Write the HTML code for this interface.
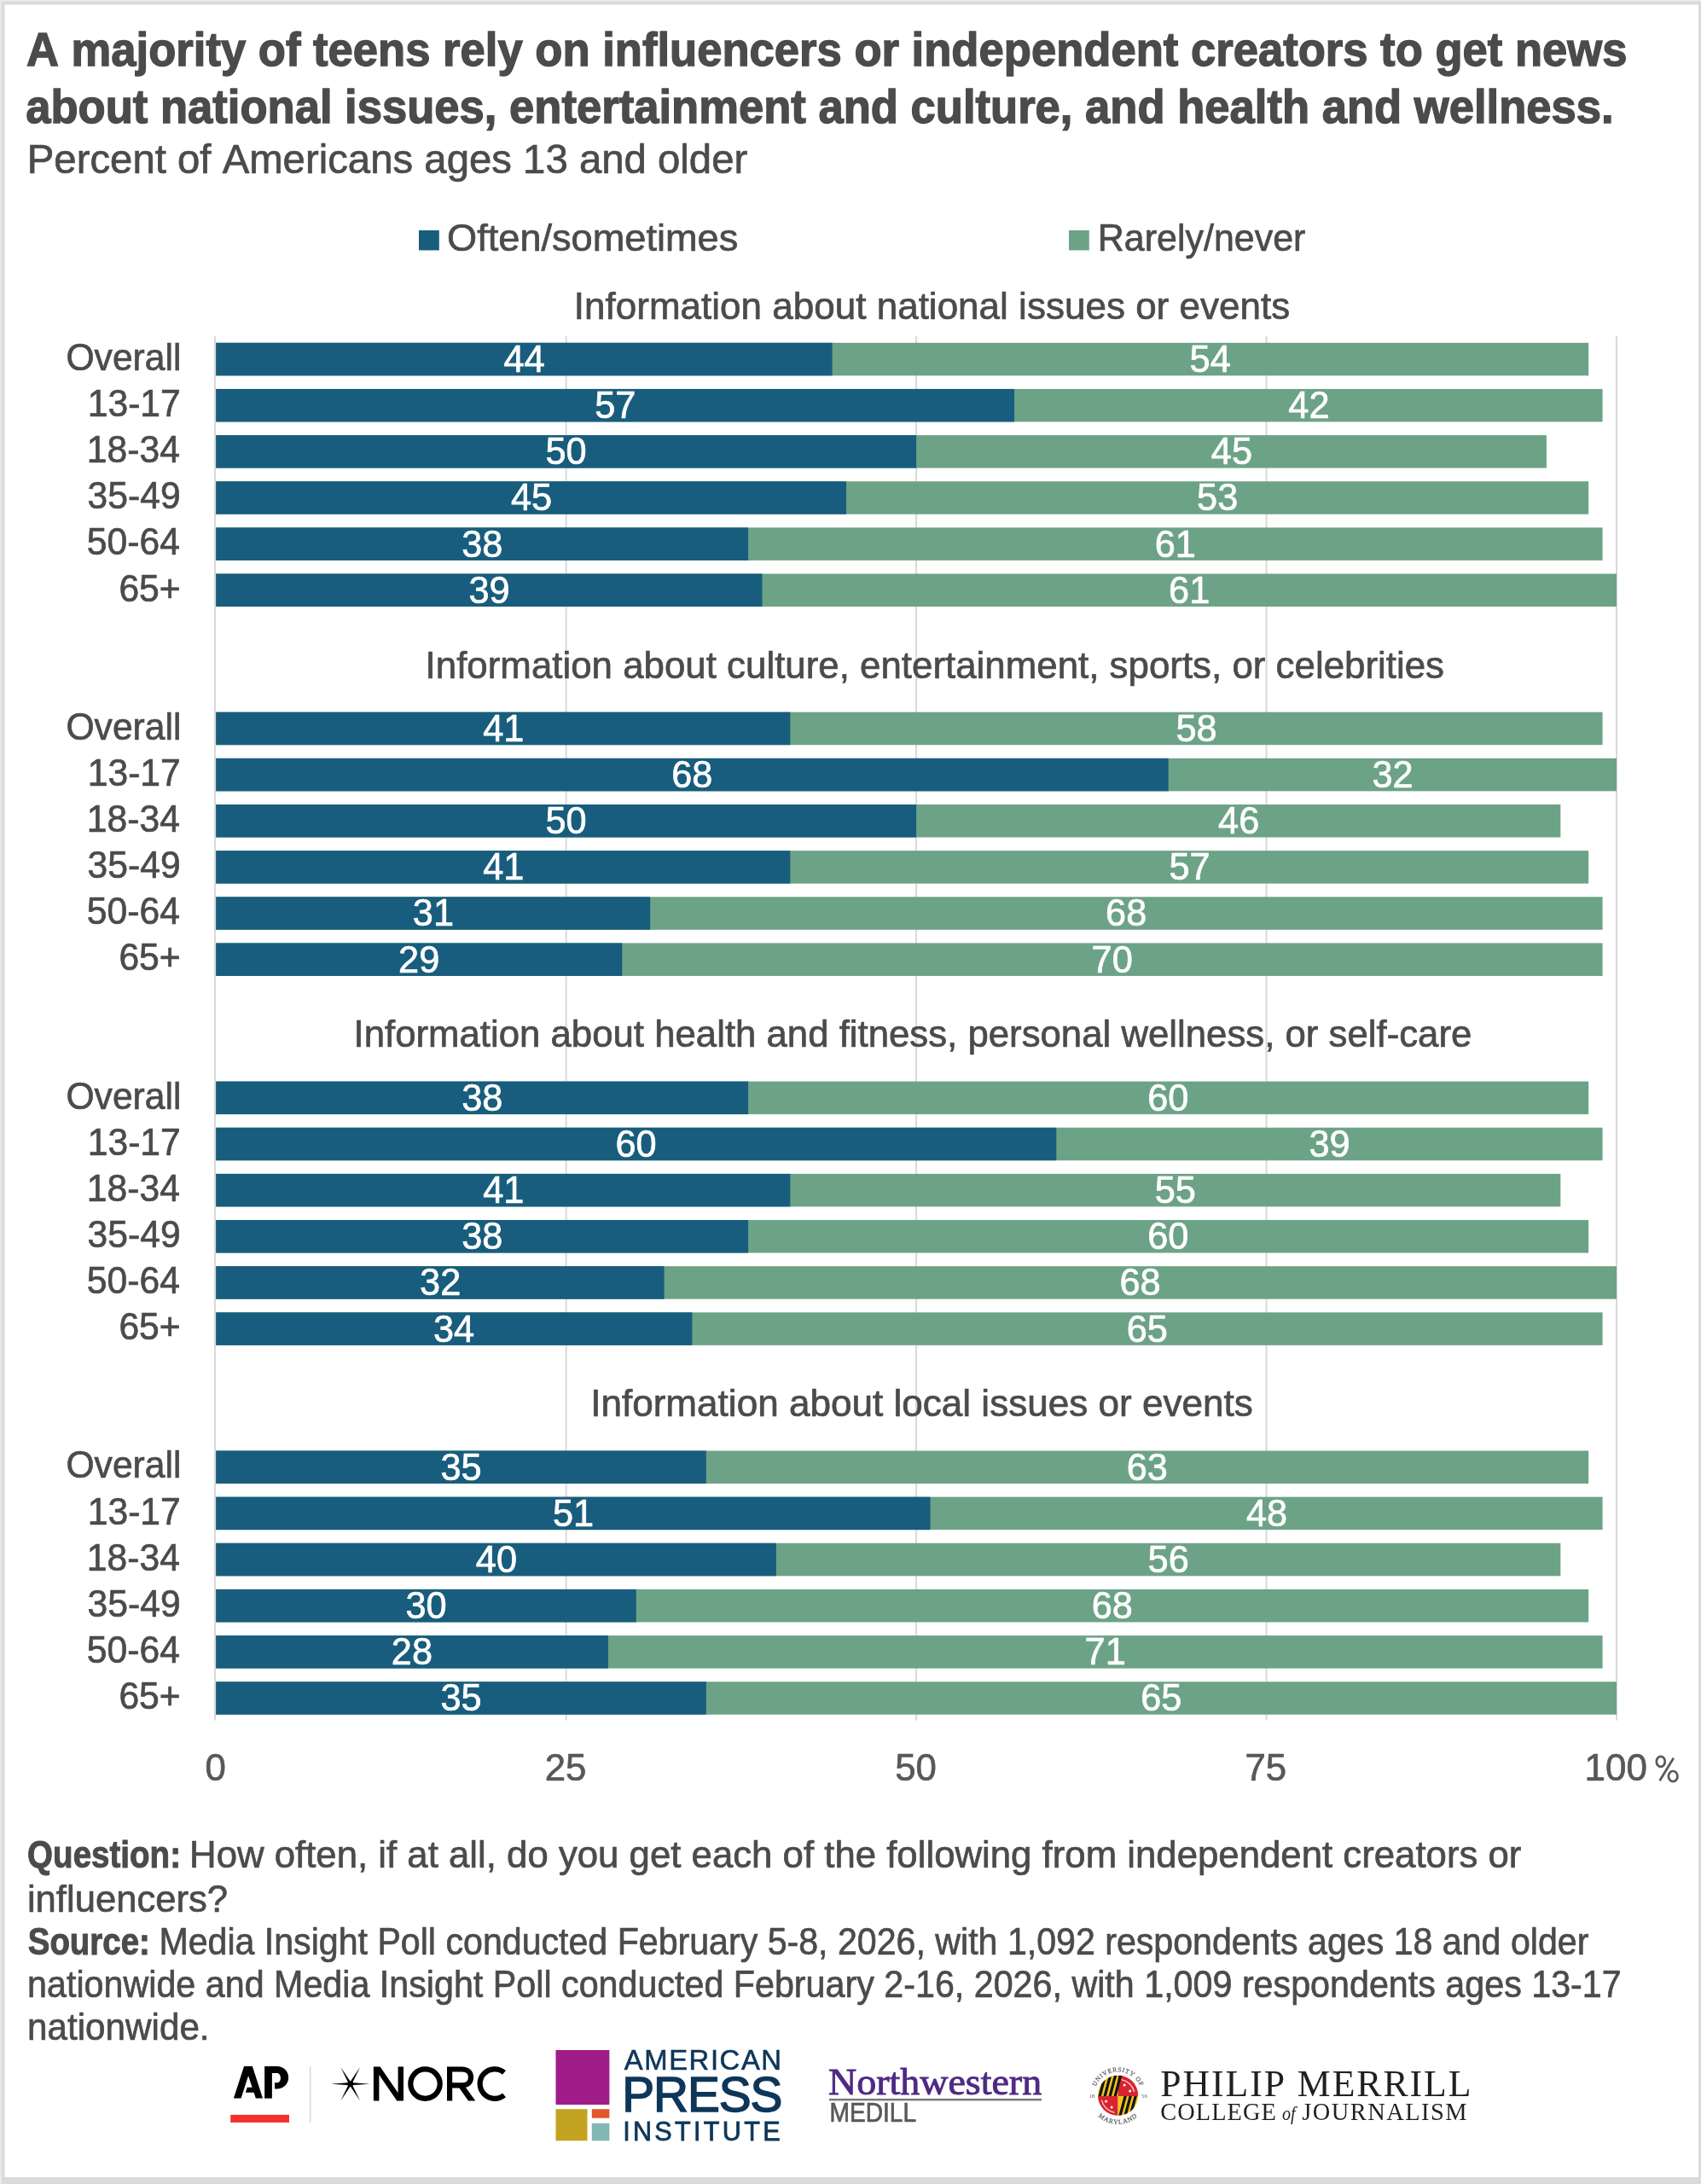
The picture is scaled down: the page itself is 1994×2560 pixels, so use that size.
<!DOCTYPE html>
<html><head><meta charset="utf-8"><title>Teens and influencers chart</title>
<style>
html,body{margin:0;padding:0;background:#fff;}
body{width:1994px;height:2560px;overflow:hidden;}
svg{display:block;will-change:transform;}
text{font-family:"Liberation Sans",sans-serif;fill:#4b4b4b;font-kerning:none;font-variant-ligatures:none;}
</style></head><body>
<svg width="1994" height="2560" viewBox="0 0 1994 2560">
<rect x="0.00" y="0.00" width="1994.00" height="2560.00" fill="#dadada"/>
<rect x="0.00" y="0.00" width="1994.00" height="2.00" fill="#e8e8e8"/>
<rect x="0.00" y="0.00" width="2.00" height="2560.00" fill="#e8e8e8"/>
<rect x="5.50" y="5.50" width="1985.50" height="2546.50" fill="#ffffff"/>
<text x="30.99" y="77.30" font-size="55.5" font-weight="bold" textLength="1876.47" lengthAdjust="spacingAndGlyphs" style="fill:#4b4b4b;stroke:#4b4b4b;stroke-width:1.4px">A majority of teens rely on influencers or independent creators to get news</text>
<text x="30.16" y="143.70" font-size="55.5" font-weight="bold" textLength="1861.46" lengthAdjust="spacingAndGlyphs" style="fill:#4b4b4b;stroke:#4b4b4b;stroke-width:1.4px">about national issues, entertainment and culture, and health and wellness.</text>
<text x="31.77" y="202.85" font-size="47.6" textLength="844.47" lengthAdjust="spacingAndGlyphs" style="fill:#4b4b4b;stroke:#4b4b4b;stroke-width:0.7px">Percent of Americans ages 13 and older</text>
<rect x="491.00" y="270.00" width="23.80" height="23.40" fill="#185d7d"/>
<text x="524.11" y="294.05" font-size="43.75" textLength="341.17" lengthAdjust="spacingAndGlyphs" style="fill:#4b4b4b;stroke:#4b4b4b;stroke-width:0.7px">Often/sometimes</text>
<rect x="1253.00" y="270.00" width="23.80" height="23.40" fill="#6ca386"/>
<text x="1286.83" y="294.05" font-size="43.75" textLength="243.54" lengthAdjust="spacingAndGlyphs" style="fill:#4b4b4b;stroke:#4b4b4b;stroke-width:0.7px">Rarely/never</text>
<rect x="251.00" y="394.00" width="2.00" height="1622.60" fill="#d9d9d9"/>
<rect x="662.65" y="394.00" width="2.00" height="1622.60" fill="#d9d9d9"/>
<rect x="1073.10" y="394.00" width="2.00" height="1622.60" fill="#d9d9d9"/>
<rect x="1483.55" y="394.00" width="2.00" height="1622.60" fill="#d9d9d9"/>
<rect x="1894.00" y="394.00" width="2.00" height="1622.60" fill="#d9d9d9"/>
<text x="672.79" y="373.55" font-size="43.75" textLength="839.45" lengthAdjust="spacingAndGlyphs" style="fill:#4b4b4b;stroke:#4b4b4b;stroke-width:0.7px">Information about national issues or events</text>
<rect x="253.20" y="401.80" width="1608.96" height="38.50" fill="#6ca386"/>
<rect x="253.20" y="401.80" width="722.39" height="38.50" fill="#185d7d"/>
<text x="77.39" y="433.75" font-size="43.75" textLength="135.11" lengthAdjust="spacingAndGlyphs" style="fill:#4b4b4b;stroke:#4b4b4b;stroke-width:0.7px">Overall</text>
<text x="590.45" y="435.95" font-size="43.75" textLength="48.18" lengthAdjust="spacingAndGlyphs" style="fill:#ffffff;stroke:#ffffff;stroke-width:0.7px">44</text>
<text x="1394.56" y="435.95" font-size="43.75" textLength="48.18" lengthAdjust="spacingAndGlyphs" style="fill:#ffffff;stroke:#ffffff;stroke-width:0.7px">54</text>
<rect x="253.20" y="455.95" width="1625.38" height="38.50" fill="#6ca386"/>
<rect x="253.20" y="455.95" width="935.83" height="38.50" fill="#185d7d"/>
<text x="102.70" y="487.90" font-size="43.75" textLength="109.10" lengthAdjust="spacingAndGlyphs" style="fill:#4b4b4b;stroke:#4b4b4b;stroke-width:0.7px">13-17</text>
<text x="697.25" y="490.10" font-size="43.75" textLength="48.18" lengthAdjust="spacingAndGlyphs" style="fill:#ffffff;stroke:#ffffff;stroke-width:0.7px">57</text>
<text x="1510.31" y="490.10" font-size="43.75" textLength="48.18" lengthAdjust="spacingAndGlyphs" style="fill:#ffffff;stroke:#ffffff;stroke-width:0.7px">42</text>
<rect x="253.20" y="510.10" width="1559.71" height="38.50" fill="#6ca386"/>
<rect x="253.20" y="510.10" width="820.90" height="38.50" fill="#185d7d"/>
<text x="101.80" y="542.05" font-size="43.75" textLength="109.10" lengthAdjust="spacingAndGlyphs" style="fill:#4b4b4b;stroke:#4b4b4b;stroke-width:0.7px">18-34</text>
<text x="639.54" y="544.25" font-size="43.75" textLength="48.18" lengthAdjust="spacingAndGlyphs" style="fill:#ffffff;stroke:#ffffff;stroke-width:0.7px">50</text>
<text x="1419.83" y="544.25" font-size="43.75" textLength="48.18" lengthAdjust="spacingAndGlyphs" style="fill:#ffffff;stroke:#ffffff;stroke-width:0.7px">45</text>
<rect x="253.20" y="564.25" width="1608.96" height="38.50" fill="#6ca386"/>
<rect x="253.20" y="564.25" width="738.81" height="38.50" fill="#185d7d"/>
<text x="102.57" y="596.20" font-size="43.75" textLength="109.10" lengthAdjust="spacingAndGlyphs" style="fill:#4b4b4b;stroke:#4b4b4b;stroke-width:0.7px">35-49</text>
<text x="598.93" y="598.40" font-size="43.75" textLength="48.18" lengthAdjust="spacingAndGlyphs" style="fill:#ffffff;stroke:#ffffff;stroke-width:0.7px">45</text>
<text x="1403.08" y="598.40" font-size="43.75" textLength="48.18" lengthAdjust="spacingAndGlyphs" style="fill:#ffffff;stroke:#ffffff;stroke-width:0.7px">53</text>
<rect x="253.20" y="618.40" width="1625.38" height="38.50" fill="#6ca386"/>
<rect x="253.20" y="618.40" width="623.88" height="38.50" fill="#185d7d"/>
<text x="101.80" y="650.35" font-size="43.75" textLength="109.10" lengthAdjust="spacingAndGlyphs" style="fill:#4b4b4b;stroke:#4b4b4b;stroke-width:0.7px">50-64</text>
<text x="541.17" y="652.55" font-size="43.75" textLength="48.18" lengthAdjust="spacingAndGlyphs" style="fill:#ffffff;stroke:#ffffff;stroke-width:0.7px">38</text>
<text x="1353.70" y="652.55" font-size="43.75" textLength="48.18" lengthAdjust="spacingAndGlyphs" style="fill:#ffffff;stroke:#ffffff;stroke-width:0.7px">61</text>
<rect x="253.20" y="672.55" width="1641.80" height="38.50" fill="#6ca386"/>
<rect x="253.20" y="672.55" width="640.30" height="38.50" fill="#185d7d"/>
<text x="139.40" y="704.50" font-size="43.75" textLength="72.36" lengthAdjust="spacingAndGlyphs" style="fill:#4b4b4b;stroke:#4b4b4b;stroke-width:0.7px">65+</text>
<text x="549.46" y="706.70" font-size="43.75" textLength="48.18" lengthAdjust="spacingAndGlyphs" style="fill:#ffffff;stroke:#ffffff;stroke-width:0.7px">39</text>
<text x="1370.12" y="706.70" font-size="43.75" textLength="48.18" lengthAdjust="spacingAndGlyphs" style="fill:#ffffff;stroke:#ffffff;stroke-width:0.7px">61</text>
<text x="498.60" y="794.95" font-size="43.75" textLength="1194.43" lengthAdjust="spacingAndGlyphs" style="fill:#4b4b4b;stroke:#4b4b4b;stroke-width:0.7px">Information about culture, entertainment, sports, or celebrities</text>
<rect x="253.20" y="834.70" width="1625.38" height="38.50" fill="#6ca386"/>
<rect x="253.20" y="834.70" width="673.14" height="38.50" fill="#185d7d"/>
<text x="77.39" y="866.65" font-size="43.75" textLength="135.11" lengthAdjust="spacingAndGlyphs" style="fill:#4b4b4b;stroke:#4b4b4b;stroke-width:0.7px">Overall</text>
<text x="566.24" y="868.85" font-size="43.75" textLength="48.18" lengthAdjust="spacingAndGlyphs" style="fill:#ffffff;stroke:#ffffff;stroke-width:0.7px">41</text>
<text x="1378.45" y="868.85" font-size="43.75" textLength="48.18" lengthAdjust="spacingAndGlyphs" style="fill:#ffffff;stroke:#ffffff;stroke-width:0.7px">58</text>
<rect x="253.20" y="888.85" width="1641.80" height="38.50" fill="#6ca386"/>
<rect x="253.20" y="888.85" width="1116.42" height="38.50" fill="#185d7d"/>
<text x="102.70" y="920.80" font-size="43.75" textLength="109.10" lengthAdjust="spacingAndGlyphs" style="fill:#4b4b4b;stroke:#4b4b4b;stroke-width:0.7px">13-17</text>
<text x="787.17" y="923.00" font-size="43.75" textLength="48.18" lengthAdjust="spacingAndGlyphs" style="fill:#ffffff;stroke:#ffffff;stroke-width:0.7px">68</text>
<text x="1608.49" y="923.00" font-size="43.75" textLength="48.18" lengthAdjust="spacingAndGlyphs" style="fill:#ffffff;stroke:#ffffff;stroke-width:0.7px">32</text>
<rect x="253.20" y="943.00" width="1576.13" height="38.50" fill="#6ca386"/>
<rect x="253.20" y="943.00" width="820.90" height="38.50" fill="#185d7d"/>
<text x="101.80" y="974.95" font-size="43.75" textLength="109.10" lengthAdjust="spacingAndGlyphs" style="fill:#4b4b4b;stroke:#4b4b4b;stroke-width:0.7px">18-34</text>
<text x="639.54" y="977.15" font-size="43.75" textLength="48.18" lengthAdjust="spacingAndGlyphs" style="fill:#ffffff;stroke:#ffffff;stroke-width:0.7px">50</text>
<text x="1428.08" y="977.15" font-size="43.75" textLength="48.18" lengthAdjust="spacingAndGlyphs" style="fill:#ffffff;stroke:#ffffff;stroke-width:0.7px">46</text>
<rect x="253.20" y="997.15" width="1608.96" height="38.50" fill="#6ca386"/>
<rect x="253.20" y="997.15" width="673.14" height="38.50" fill="#185d7d"/>
<text x="102.57" y="1029.10" font-size="43.75" textLength="109.10" lengthAdjust="spacingAndGlyphs" style="fill:#4b4b4b;stroke:#4b4b4b;stroke-width:0.7px">35-49</text>
<text x="566.24" y="1031.30" font-size="43.75" textLength="48.18" lengthAdjust="spacingAndGlyphs" style="fill:#ffffff;stroke:#ffffff;stroke-width:0.7px">41</text>
<text x="1370.38" y="1031.30" font-size="43.75" textLength="48.18" lengthAdjust="spacingAndGlyphs" style="fill:#ffffff;stroke:#ffffff;stroke-width:0.7px">57</text>
<rect x="253.20" y="1051.30" width="1625.38" height="38.50" fill="#6ca386"/>
<rect x="253.20" y="1051.30" width="508.96" height="38.50" fill="#185d7d"/>
<text x="101.80" y="1083.25" font-size="43.75" textLength="109.10" lengthAdjust="spacingAndGlyphs" style="fill:#4b4b4b;stroke:#4b4b4b;stroke-width:0.7px">50-64</text>
<text x="483.82" y="1085.45" font-size="43.75" textLength="48.18" lengthAdjust="spacingAndGlyphs" style="fill:#ffffff;stroke:#ffffff;stroke-width:0.7px">31</text>
<text x="1296.12" y="1085.45" font-size="43.75" textLength="48.18" lengthAdjust="spacingAndGlyphs" style="fill:#ffffff;stroke:#ffffff;stroke-width:0.7px">68</text>
<rect x="253.20" y="1105.45" width="1625.38" height="38.50" fill="#6ca386"/>
<rect x="253.20" y="1105.45" width="476.12" height="38.50" fill="#185d7d"/>
<text x="139.40" y="1137.40" font-size="43.75" textLength="72.36" lengthAdjust="spacingAndGlyphs" style="fill:#4b4b4b;stroke:#4b4b4b;stroke-width:0.7px">65+</text>
<text x="467.11" y="1139.60" font-size="43.75" textLength="48.18" lengthAdjust="spacingAndGlyphs" style="fill:#ffffff;stroke:#ffffff;stroke-width:0.7px">29</text>
<text x="1279.60" y="1139.60" font-size="43.75" textLength="48.18" lengthAdjust="spacingAndGlyphs" style="fill:#ffffff;stroke:#ffffff;stroke-width:0.7px">70</text>
<text x="414.52" y="1227.35" font-size="43.75" style="fill:#4b4b4b;stroke:#4b4b4b;stroke-width:0.7px">Information about health and fitness, personal wellness, or self-care</text>
<rect x="253.20" y="1267.60" width="1608.96" height="38.50" fill="#6ca386"/>
<rect x="253.20" y="1267.60" width="623.88" height="38.50" fill="#185d7d"/>
<text x="77.39" y="1299.55" font-size="43.75" textLength="135.11" lengthAdjust="spacingAndGlyphs" style="fill:#4b4b4b;stroke:#4b4b4b;stroke-width:0.7px">Overall</text>
<text x="541.17" y="1301.75" font-size="43.75" textLength="48.18" lengthAdjust="spacingAndGlyphs" style="fill:#ffffff;stroke:#ffffff;stroke-width:0.7px">38</text>
<text x="1345.28" y="1301.75" font-size="43.75" textLength="48.18" lengthAdjust="spacingAndGlyphs" style="fill:#ffffff;stroke:#ffffff;stroke-width:0.7px">60</text>
<rect x="253.20" y="1321.75" width="1625.38" height="38.50" fill="#6ca386"/>
<rect x="253.20" y="1321.75" width="985.08" height="38.50" fill="#185d7d"/>
<text x="102.70" y="1353.70" font-size="43.75" textLength="109.10" lengthAdjust="spacingAndGlyphs" style="fill:#4b4b4b;stroke:#4b4b4b;stroke-width:0.7px">13-17</text>
<text x="721.40" y="1355.90" font-size="43.75" textLength="48.18" lengthAdjust="spacingAndGlyphs" style="fill:#ffffff;stroke:#ffffff;stroke-width:0.7px">60</text>
<text x="1534.54" y="1355.90" font-size="43.75" textLength="48.18" lengthAdjust="spacingAndGlyphs" style="fill:#ffffff;stroke:#ffffff;stroke-width:0.7px">39</text>
<rect x="253.20" y="1375.90" width="1576.13" height="38.50" fill="#6ca386"/>
<rect x="253.20" y="1375.90" width="673.14" height="38.50" fill="#185d7d"/>
<text x="101.80" y="1407.85" font-size="43.75" textLength="109.10" lengthAdjust="spacingAndGlyphs" style="fill:#4b4b4b;stroke:#4b4b4b;stroke-width:0.7px">18-34</text>
<text x="566.24" y="1410.05" font-size="43.75" textLength="48.18" lengthAdjust="spacingAndGlyphs" style="fill:#ffffff;stroke:#ffffff;stroke-width:0.7px">41</text>
<text x="1353.79" y="1410.05" font-size="43.75" textLength="48.18" lengthAdjust="spacingAndGlyphs" style="fill:#ffffff;stroke:#ffffff;stroke-width:0.7px">55</text>
<rect x="253.20" y="1430.05" width="1608.96" height="38.50" fill="#6ca386"/>
<rect x="253.20" y="1430.05" width="623.88" height="38.50" fill="#185d7d"/>
<text x="102.57" y="1462.00" font-size="43.75" textLength="109.10" lengthAdjust="spacingAndGlyphs" style="fill:#4b4b4b;stroke:#4b4b4b;stroke-width:0.7px">35-49</text>
<text x="541.17" y="1464.20" font-size="43.75" textLength="48.18" lengthAdjust="spacingAndGlyphs" style="fill:#ffffff;stroke:#ffffff;stroke-width:0.7px">38</text>
<text x="1345.28" y="1464.20" font-size="43.75" textLength="48.18" lengthAdjust="spacingAndGlyphs" style="fill:#ffffff;stroke:#ffffff;stroke-width:0.7px">60</text>
<rect x="253.20" y="1484.20" width="1641.80" height="38.50" fill="#6ca386"/>
<rect x="253.20" y="1484.20" width="525.38" height="38.50" fill="#185d7d"/>
<text x="101.80" y="1516.15" font-size="43.75" textLength="109.10" lengthAdjust="spacingAndGlyphs" style="fill:#4b4b4b;stroke:#4b4b4b;stroke-width:0.7px">50-64</text>
<text x="492.06" y="1518.35" font-size="43.75" textLength="48.18" lengthAdjust="spacingAndGlyphs" style="fill:#ffffff;stroke:#ffffff;stroke-width:0.7px">32</text>
<text x="1312.54" y="1518.35" font-size="43.75" textLength="48.18" lengthAdjust="spacingAndGlyphs" style="fill:#ffffff;stroke:#ffffff;stroke-width:0.7px">68</text>
<rect x="253.20" y="1538.35" width="1625.38" height="38.50" fill="#6ca386"/>
<rect x="253.20" y="1538.35" width="558.21" height="38.50" fill="#185d7d"/>
<text x="139.40" y="1570.30" font-size="43.75" textLength="72.36" lengthAdjust="spacingAndGlyphs" style="fill:#4b4b4b;stroke:#4b4b4b;stroke-width:0.7px">65+</text>
<text x="508.03" y="1572.50" font-size="43.75" textLength="48.18" lengthAdjust="spacingAndGlyphs" style="fill:#ffffff;stroke:#ffffff;stroke-width:0.7px">34</text>
<text x="1320.72" y="1572.50" font-size="43.75" textLength="48.18" lengthAdjust="spacingAndGlyphs" style="fill:#ffffff;stroke:#ffffff;stroke-width:0.7px">65</text>
<text x="692.18" y="1659.55" font-size="43.75" textLength="776.66" lengthAdjust="spacingAndGlyphs" style="fill:#4b4b4b;stroke:#4b4b4b;stroke-width:0.7px">Information about local issues or events</text>
<rect x="253.20" y="1700.50" width="1608.96" height="38.50" fill="#6ca386"/>
<rect x="253.20" y="1700.50" width="574.63" height="38.50" fill="#185d7d"/>
<text x="77.39" y="1732.45" font-size="43.75" textLength="135.11" lengthAdjust="spacingAndGlyphs" style="fill:#4b4b4b;stroke:#4b4b4b;stroke-width:0.7px">Overall</text>
<text x="516.51" y="1734.65" font-size="43.75" textLength="48.18" lengthAdjust="spacingAndGlyphs" style="fill:#ffffff;stroke:#ffffff;stroke-width:0.7px">35</text>
<text x="1320.76" y="1734.65" font-size="43.75" textLength="48.18" lengthAdjust="spacingAndGlyphs" style="fill:#ffffff;stroke:#ffffff;stroke-width:0.7px">63</text>
<rect x="253.20" y="1754.65" width="1625.38" height="38.50" fill="#6ca386"/>
<rect x="253.20" y="1754.65" width="837.32" height="38.50" fill="#185d7d"/>
<text x="102.70" y="1786.60" font-size="43.75" textLength="109.10" lengthAdjust="spacingAndGlyphs" style="fill:#4b4b4b;stroke:#4b4b4b;stroke-width:0.7px">13-17</text>
<text x="647.96" y="1788.80" font-size="43.75" textLength="48.18" lengthAdjust="spacingAndGlyphs" style="fill:#ffffff;stroke:#ffffff;stroke-width:0.7px">51</text>
<text x="1460.91" y="1788.80" font-size="43.75" textLength="48.18" lengthAdjust="spacingAndGlyphs" style="fill:#ffffff;stroke:#ffffff;stroke-width:0.7px">48</text>
<rect x="253.20" y="1808.80" width="1576.13" height="38.50" fill="#6ca386"/>
<rect x="253.20" y="1808.80" width="656.72" height="38.50" fill="#185d7d"/>
<text x="101.80" y="1840.75" font-size="43.75" textLength="109.10" lengthAdjust="spacingAndGlyphs" style="fill:#4b4b4b;stroke:#4b4b4b;stroke-width:0.7px">18-34</text>
<text x="557.82" y="1842.95" font-size="43.75" textLength="48.18" lengthAdjust="spacingAndGlyphs" style="fill:#ffffff;stroke:#ffffff;stroke-width:0.7px">40</text>
<text x="1345.62" y="1842.95" font-size="43.75" textLength="48.18" lengthAdjust="spacingAndGlyphs" style="fill:#ffffff;stroke:#ffffff;stroke-width:0.7px">56</text>
<rect x="253.20" y="1862.95" width="1608.96" height="38.50" fill="#6ca386"/>
<rect x="253.20" y="1862.95" width="492.54" height="38.50" fill="#185d7d"/>
<text x="102.57" y="1894.90" font-size="43.75" textLength="109.10" lengthAdjust="spacingAndGlyphs" style="fill:#4b4b4b;stroke:#4b4b4b;stroke-width:0.7px">35-49</text>
<text x="475.40" y="1897.10" font-size="43.75" textLength="48.18" lengthAdjust="spacingAndGlyphs" style="fill:#ffffff;stroke:#ffffff;stroke-width:0.7px">30</text>
<text x="1279.71" y="1897.10" font-size="43.75" textLength="48.18" lengthAdjust="spacingAndGlyphs" style="fill:#ffffff;stroke:#ffffff;stroke-width:0.7px">68</text>
<rect x="253.20" y="1917.10" width="1625.38" height="38.50" fill="#6ca386"/>
<rect x="253.20" y="1917.10" width="459.70" height="38.50" fill="#185d7d"/>
<text x="101.80" y="1949.05" font-size="43.75" textLength="109.10" lengthAdjust="spacingAndGlyphs" style="fill:#4b4b4b;stroke:#4b4b4b;stroke-width:0.7px">50-64</text>
<text x="458.82" y="1951.25" font-size="43.75" textLength="48.18" lengthAdjust="spacingAndGlyphs" style="fill:#ffffff;stroke:#ffffff;stroke-width:0.7px">28</text>
<text x="1271.60" y="1951.25" font-size="43.75" textLength="48.18" lengthAdjust="spacingAndGlyphs" style="fill:#ffffff;stroke:#ffffff;stroke-width:0.7px">71</text>
<rect x="253.20" y="1971.25" width="1641.80" height="38.50" fill="#6ca386"/>
<rect x="253.20" y="1971.25" width="574.63" height="38.50" fill="#185d7d"/>
<text x="139.40" y="2003.20" font-size="43.75" textLength="72.36" lengthAdjust="spacingAndGlyphs" style="fill:#4b4b4b;stroke:#4b4b4b;stroke-width:0.7px">65+</text>
<text x="516.51" y="2005.40" font-size="43.75" textLength="48.18" lengthAdjust="spacingAndGlyphs" style="fill:#ffffff;stroke:#ffffff;stroke-width:0.7px">35</text>
<text x="1337.14" y="2005.40" font-size="43.75" textLength="48.18" lengthAdjust="spacingAndGlyphs" style="fill:#ffffff;stroke:#ffffff;stroke-width:0.7px">65</text>
<text x="240.53" y="2087.15" font-size="43.75" style="fill:#585858;stroke:#585858;stroke-width:0.7px">0</text>
<text x="638.64" y="2087.15" font-size="43.75" style="fill:#585858;stroke:#585858;stroke-width:0.7px">25</text>
<text x="1049.25" y="2087.15" font-size="43.75" style="fill:#585858;stroke:#585858;stroke-width:0.7px">50</text>
<text x="1459.52" y="2087.15" font-size="43.75" style="fill:#585858;stroke:#585858;stroke-width:0.7px">75</text>
<text x="1857.50" y="2087.15" font-size="43.75" textLength="73.37" lengthAdjust="spacingAndGlyphs" style="fill:#585858;stroke:#585858;stroke-width:0.7px">100</text>
<g fill="none" stroke="#585858" stroke-width="2.7"><ellipse cx="1946.8" cy="2064.8" rx="5.0" ry="6.0"/><ellipse cx="1961.2" cy="2082.1" rx="5.3" ry="6.1"/><path d="M1961.8,2060.8 L1945.6,2087.2"/></g>
<text x="32.12" y="2188.80" font-size="43.75" font-weight="bold" textLength="179.89" lengthAdjust="spacingAndGlyphs" style="fill:#4b4b4b;stroke:#4b4b4b;stroke-width:1.0px">Question:</text>
<text x="222.06" y="2188.95" font-size="43.75" style="fill:#4b4b4b;stroke:#4b4b4b;stroke-width:0.7px">How often, if at all, do you get each of the following from independent creators or</text>
<text x="31.93" y="2240.65" font-size="43.75" textLength="235.14" lengthAdjust="spacingAndGlyphs" style="fill:#4b4b4b;stroke:#4b4b4b;stroke-width:0.7px">influencers?</text>
<text x="32.79" y="2291.20" font-size="43.75" font-weight="bold" textLength="143.00" lengthAdjust="spacingAndGlyphs" style="fill:#4b4b4b;stroke:#4b4b4b;stroke-width:1.0px">Source:</text>
<text x="186.38" y="2291.35" font-size="43.75" textLength="1675.96" lengthAdjust="spacingAndGlyphs" style="fill:#4b4b4b;stroke:#4b4b4b;stroke-width:0.7px">Media Insight Poll conducted February 5-8, 2026, with 1,092 respondents ages 18 and older</text>
<text x="32.11" y="2340.65" font-size="43.75" textLength="1868.61" lengthAdjust="spacingAndGlyphs" style="fill:#4b4b4b;stroke:#4b4b4b;stroke-width:0.7px">nationwide and Media Insight Poll conducted February 2-16, 2026, with 1,009 respondents ages 13-17</text>
<text x="32.05" y="2390.75" font-size="43.75" textLength="213.56" lengthAdjust="spacingAndGlyphs" style="fill:#4b4b4b;stroke:#4b4b4b;stroke-width:0.7px">nationwide.</text>
<g fill="#000">
<polygon points="286.07,2422.05 294.65,2422.05 282.63,2459.62 273.90,2459.62"/>
<polygon points="287.40,2422.05 295.86,2422.05 308.03,2459.62 299.83,2459.62"/>
<polygon points="289.78,2446.66 299.04,2446.66 301.15,2452.74 287.93,2452.74"/>
<rect x="310.15" y="2422.05" width="8.73" height="37.57"/>
<path d="M317.0,2422.05 H324.43 C332.3,2422.05 338.19,2427.9 338.19,2435.28 C338.19,2442.7 332.3,2448.51 324.43,2448.51 H322.05 V2441.37 H324.43 C327.2,2441.37 328.93,2438.9 328.93,2435.8 C328.93,2432.4 327.2,2430.0 324.43,2430.0 H317.0 Z"/>
</g>
<rect x="270.20" y="2478.90" width="68.80" height="9.00" fill="#f5302d"/>
<rect x="363.00" y="2422.00" width="1.30" height="66.00" fill="#d4d4d4"/>
<path fill="#000" d="M433.50,2442.70 L410.70,2444.30 L387.90,2442.70 L410.70,2441.10 Z M422.10,2462.45 L409.31,2443.50 L399.30,2422.95 L412.09,2441.90 Z M399.30,2462.45 L409.31,2441.90 L422.10,2422.95 L412.09,2443.50 Z"/>
<circle cx="410.7" cy="2442.7" r="3.4" fill="#000"/>
<g fill="none" stroke="#000" stroke-width="6.2">
<circle cx="498.5" cy="2442.6" r="17.2"/>
<path d="M527.1,2462.5 V2425.5 H541.5 C548.5,2425.5 552.0,2429.8 552.0,2435.0 C552.0,2440.5 548.5,2444.4 541.5,2444.4 H527.1"/>
<path d="M591.0,2429.3 A17.3,17.3 0 1 0 591.0,2455.9"/>
</g>
<polygon fill="#000" points="537.0,2445.5 545.0,2445.5 557.3,2462.5 549.0,2462.5"/>
<path fill="#000" d="M437.9,2422.4 H444.4 V2462.5 H437.9 Z M466.6,2422.4 H473.0 V2462.5 H466.6 Z M437.9,2422.4 H445.6 L473.0,2462.5 H465.3 Z"/>
<rect x="651.50" y="2403.00" width="62.90" height="64.00" fill="#a01d89"/>
<rect x="651.50" y="2472.20" width="37.00" height="37.10" fill="#c4a322"/>
<rect x="693.80" y="2472.20" width="20.60" height="10.50" fill="#e3562a"/>
<rect x="693.80" y="2488.80" width="20.60" height="20.50" fill="#82b7b3"/>
<text x="731.74" y="2425.70" font-size="32.8" style="fill:#0e3659;font-family:'Liberation Sans';letter-spacing:1.60px;stroke:#0e3659;stroke-width:0.6px">AMERICAN</text>
<text x="729.29" y="2475.45" font-size="56.8" style="fill:#0e3659;font-family:'Liberation Sans';letter-spacing:-1.12px;stroke:#0e3659;stroke-width:1.5px">PRESS</text>
<text x="730.18" y="2508.80" font-size="30.6" style="fill:#0e3659;font-family:'Liberation Sans';letter-spacing:3.29px;stroke:#0e3659;stroke-width:0.8px">INSTITUTE</text>
<text x="971.03" y="2454.85" font-size="44.3" textLength="250.12" lengthAdjust="spacingAndGlyphs" style="fill:#4e2a84;stroke:#4e2a84;stroke-width:0.9px;font-family:'Liberation Serif'">Northwestern</text>
<rect x="971.90" y="2459.90" width="249.10" height="2.50" fill="#7a7a7a"/>
<text x="972.54" y="2487.35" font-size="30.5" textLength="101.64" lengthAdjust="spacingAndGlyphs" style="fill:#58595b;stroke:#58595b;stroke-width:0.7px">MEDILL</text>
<text x="1360.24" y="2457.00" font-size="43.7" style="fill:#231f20;font-family:'Liberation Serif';letter-spacing:1.97px">PHILIP MERRILL</text>
<text x="1360.34" y="2484.90" font-size="28.4" style="fill:#231f20;font-family:'Liberation Serif';letter-spacing:1.02px">COLLEGE</text>
<text x="1502.90" y="2484.90" font-size="24.0" font-style="italic" textLength="15.68" lengthAdjust="spacingAndGlyphs" style="fill:#231f20;font-family:'Liberation Serif'">of</text>
<text x="1526.20" y="2484.90" font-size="28.4" style="fill:#231f20;font-family:'Liberation Serif';letter-spacing:1.50px">JOURNALISM</text>
<defs><clipPath id="globe"><circle cx="1310.6" cy="2456.2" r="23.6"/></clipPath><path id="arcTop" d="M1283.02,2461.07 A28.0,28.0 0 1 1 1338.18,2461.07"/><path id="arcBot" d="M1279.02,2444.71 A33.6,33.6 0 1 0 1342.18,2444.71"/></defs>
<g clip-path="url(#globe)">
<rect x="1287.00" y="2432.60" width="23.60" height="24.40" fill="#f4c21a"/>
<rect x="1310.60" y="2432.60" width="23.60" height="24.40" fill="#d9232e"/>
<rect x="1287.00" y="2457.00" width="23.60" height="25.60" fill="#d9232e"/>
<rect x="1310.60" y="2457.00" width="23.60" height="25.60" fill="#f4c21a"/>
<path fill="#151515" d="M1287.50,2457.0 L1290.90,2457.0 L1297.30,2432.6 L1293.90,2432.6 Z M1311.10,2480.7999999999997 L1314.50,2480.7999999999997 L1320.90,2457.0 L1317.50,2457.0 Z M1293.50,2457.0 L1296.90,2457.0 L1303.30,2432.6 L1299.90,2432.6 Z M1317.10,2480.7999999999997 L1320.50,2480.7999999999997 L1326.90,2457.0 L1323.50,2457.0 Z M1299.50,2457.0 L1302.90,2457.0 L1309.30,2432.6 L1305.90,2432.6 Z M1323.10,2480.7999999999997 L1326.50,2480.7999999999997 L1332.90,2457.0 L1329.50,2457.0 Z M1305.50,2457.0 L1308.90,2457.0 L1315.30,2432.6 L1311.90,2432.6 Z M1329.10,2480.7999999999997 L1332.50,2480.7999999999997 L1338.90,2457.0 L1335.50,2457.0 Z"/>
<path fill="none" stroke="#f6d6d6" stroke-width="1.3" d="M1314.72,2437.63 A19.8,19.8 0 0 1 1329.81,2452.21 M1306.48,2476.37 A19.8,19.8 0 0 1 1291.39,2461.79"/>
<g fill="#fff"><circle cx="1318.1" cy="2444.0" r="1.5"/><circle cx="1324.6" cy="2451.0" r="1.5"/><circle cx="1303.1" cy="2470.0" r="1.5"/><circle cx="1296.6" cy="2463.0" r="1.5"/></g>
</g>
<text style="fill:#5f5f5f;stroke:#5f5f5f;stroke-width:0.25px;font-family:'Liberation Serif';font-size:7.4px;letter-spacing:0.85px" text-anchor="middle"><textPath href="#arcTop" startOffset="50%">UNIVERSITY OF</textPath></text>
<text style="fill:#5f5f5f;stroke:#5f5f5f;stroke-width:0.25px;font-family:'Liberation Serif';font-size:7.6px;letter-spacing:0.9px" text-anchor="middle"><textPath href="#arcBot" startOffset="50%">MARYLAND</textPath></text>
<text x="1279.8" y="2459.2" style="fill:#5f5f5f;font-family:'Liberation Serif';font-size:6.8px" text-anchor="middle">18</text>
<text x="1341.3999999999999" y="2459.2" style="fill:#5f5f5f;font-family:'Liberation Serif';font-size:6.8px" text-anchor="middle">56</text>
</svg>
</body></html>
